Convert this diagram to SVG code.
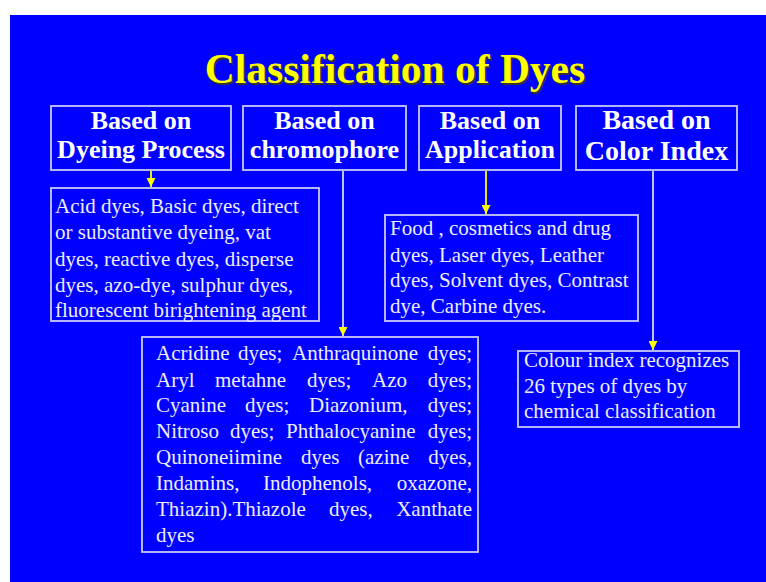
<svg xmlns="http://www.w3.org/2000/svg" width="766" height="582" viewBox="0 0 766 582">
<defs>
<style>
.box{fill:none;stroke:#c8c8f8;stroke-width:1.8}
.hd{font-family:"Liberation Serif","Times New Roman",serif;font-weight:bold;font-size:26px;fill:#ffffff;text-anchor:middle}
.bt{font-family:"Liberation Serif","Times New Roman",serif;font-size:21px;fill:#eeeeff}
.ttl{font-family:"Liberation Serif","Times New Roman",serif;font-weight:bold;font-size:41.5px;text-anchor:middle}
.ly{stroke:#ffff00;stroke-width:1.8;fill:none}
.lw{stroke:#d8d8f0;stroke-width:1.8;fill:none}
</style>
<marker id="ah" viewBox="0 0 10 10" refX="10" refY="5" markerWidth="9" markerHeight="9" markerUnits="userSpaceOnUse" orient="auto">
<path d="M0,0 L10,5 L0,10 Z" fill="#ffff00"/>
</marker>
</defs>
<rect x="0" y="0" width="766" height="582" fill="#ffffff"/>
<rect x="10" y="15" width="756" height="567" fill="#0000ff"/>
<g id="title">
<text class="ttl" x="396.5" y="84.5" fill="#333333">Classification of Dyes</text>
<text class="ttl" x="395" y="83" fill="#ffff00">Classification of Dyes</text>
</g>
<g id="h1">
<rect class="box" x="51" y="106" width="180" height="64"/>
<text class="hd" x="141" y="129">Based on</text>
<text class="hd" x="141" y="158">Dyeing Process</text>
</g>
<g id="h2">
<rect class="box" x="243" y="106" width="163" height="64"/>
<text class="hd" x="324.5" y="129">Based on</text>
<text class="hd" x="324.5" y="158">chromophore</text>
</g>
<g id="h3">
<rect class="box" x="419" y="106" width="142" height="64"/>
<text class="hd" x="490" y="129">Based on</text>
<text class="hd" x="490" y="158">Application</text>
</g>
<g id="h4">
<rect class="box" x="576" y="106" width="161" height="64"/>
<text class="hd" x="656.5" y="129" style="font-size:28px">Based on</text>
<text class="hd" x="656.5" y="160" style="font-size:28px">Color Index</text>
</g>
<g id="n1">
<rect class="box" x="51" y="188" width="268" height="133"/>
<text class="bt" x="55" y="213">Acid dyes, Basic dyes, direct</text>
<text class="bt" x="55" y="239">or substantive dyeing, vat</text>
<text class="bt" x="55" y="266">dyes, reactive dyes, disperse</text>
<text class="bt" x="55" y="292">dyes, azo-dye, sulphur dyes,</text>
<text class="bt" x="55" y="317">fluorescent birightening agent</text>
</g>
<g id="n3">
<rect class="box" x="385" y="215" width="253" height="106"/>
<text class="bt" x="390" y="235">Food , cosmetics and drug</text>
<text class="bt" x="390" y="262">dyes, Laser dyes, Leather</text>
<text class="bt" x="390" y="287">dyes, Solvent dyes, Contrast</text>
<text class="bt" x="390" y="313">dye, Carbine dyes.</text>
</g>
<g id="n2">
<rect class="box" x="142" y="337" width="336" height="215"/>
<text class="bt" x="156" y="360">Acridine</text><text class="bt" x="238" y="360">dyes;</text><text class="bt" x="292" y="360">Anthraquinone</text><text class="bt" x="472" y="360" text-anchor="end">dyes;</text>
<text class="bt" x="156" y="387">Aryl</text><text class="bt" x="215" y="387">metahne</text><text class="bt" x="307" y="387">dyes;</text><text class="bt" x="372" y="387">Azo</text><text class="bt" x="472" y="387" text-anchor="end">dyes;</text>
<text class="bt" x="156" y="412">Cyanine</text><text class="bt" x="245" y="412">dyes;</text><text class="bt" x="309" y="412">Diazonium,</text><text class="bt" x="472" y="412" text-anchor="end">dyes;</text>
<text class="bt" x="156" y="438">Nitroso</text><text class="bt" x="230" y="438">dyes;</text><text class="bt" x="286" y="438">Phthalocyanine</text><text class="bt" x="472" y="438" text-anchor="end">dyes;</text>
<text class="bt" x="156" y="464">Quinoneiimine</text><text class="bt" x="301" y="464">dyes</text><text class="bt" x="358" y="464">(azine</text><text class="bt" x="472" y="464" text-anchor="end">dyes,</text>
<text class="bt" x="156" y="490">Indamins,</text><text class="bt" x="263" y="490">Indophenols,</text><text class="bt" x="472" y="490" text-anchor="end">oxazone,</text>
<text class="bt" x="156" y="516">Thiazin).Thiazole</text><text class="bt" x="329" y="516">dyes,</text><text class="bt" x="472" y="516" text-anchor="end">Xanthate</text>
<text class="bt" x="156" y="542">dyes</text>
</g>
<g id="n4">
<rect class="box" x="518" y="351" width="221" height="76"/>
<text class="bt" x="524" y="367">Colour index recognizes</text>
<text class="bt" x="524" y="393">26 types of dyes by</text>
<text class="bt" x="524" y="418">chemical classification</text>
</g>
<g id="connectors">
<line class="ly" x1="151" y1="171" x2="151" y2="187" marker-end="url(#ah)"/>
<line class="lw" x1="343" y1="171" x2="343" y2="336" marker-end="url(#ah)"/>
<line class="ly" x1="486" y1="171" x2="486" y2="214" marker-end="url(#ah)"/>
<line class="lw" x1="653" y1="171" x2="653" y2="350" marker-end="url(#ah)"/>
</g>
</svg>
